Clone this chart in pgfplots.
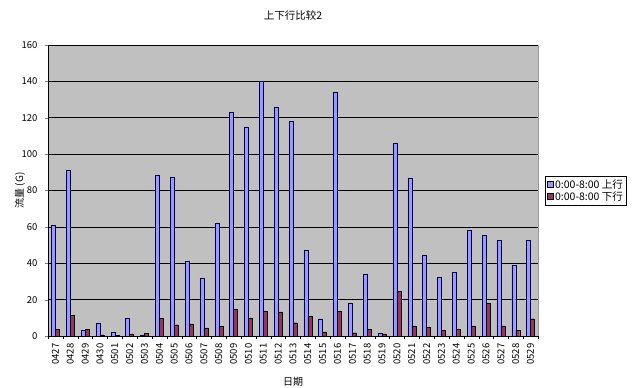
\documentclass[border=0pt]{standalone}
\usepackage{pgfplots}
\pgfplotsset{compat=1.18}
\usepackage{fontspec}
\setmainfont{Noto Sans CJK SC}
\definecolor{upc}{HTML}{9999FF}
\definecolor{dnc}{HTML}{993366}
\definecolor{plotbg}{HTML}{C0C0C0}
\begin{document}
\begin{tikzpicture}
\path[use as bounding box] (-48pt,-52pt) rectangle (592pt,336pt);
\begin{axis}[
  at={(0pt,0pt)}, anchor=south west,
  scale only axis, width=490pt, height=291pt,
  ybar=0pt, bar width=4pt,
  xmin=-0.5, xmax=32.5, ymin=0, ymax=160,
  ytick={0,20,...,160},
  xtick={0,...,32},
  xticklabels={0427,0428,0429,0430,0501,0502,0503,0504,0505,0506,0507,0508,0509,0510,0511,0512,0513,0514,0515,0516,0517,0518,0519,0520,0521,0522,0523,0524,0525,0526,0527,0528,0529},
  minor xtick={-0.5,0.5,...,32.5},
  major x tick style={draw=none},
  minor x tick style={black},
  minor tick length=3pt,
  major tick length=3pt,
  tick align=outside,
  axis x line*=bottom, axis y line*=left,
  axis line style={black, line width=0.6pt},
  axis background/.style={fill=plotbg, draw=gray!80},
  ymajorgrids, major grid style={black, line width=0.5pt},
  /pgf/number format/assume math mode=true,
  tick label style={font=\fontsize{9.5}{10}\selectfont},
  yticklabel style={xshift=-4pt},
  xticklabel style={rotate=90, anchor=east, xshift=-1pt},
  title={上下行比较2},
  title style={font=\fontsize{10.5}{12}\selectfont, at={(0.5,1)}, anchor=center, yshift=23pt},
  ylabel={流量 (G)},
  ylabel style={font=\fontsize{10}{12}\selectfont, at={(0,0.5)}, anchor=center, yshift=28pt},
  xlabel={日期},
  xlabel style={font=\fontsize{10}{12}\selectfont, at={(0.5,0)}, anchor=center, yshift=-46pt},
  legend style={at={(1,0.5)}, xshift=7pt, anchor=west, font=\fontsize{10.5}{12}\selectfont, draw=black, fill=white, inner sep=1.5pt, row sep=-2.5pt, legend cell align=left, nodes={inner xsep=2pt}},
  legend image code/.code={\draw[#1, draw=black, line width=0.4pt] (0pt,-3pt) rectangle (6pt,3pt);},
]
\addplot[fill=upc, draw=black!70!blue, line width=0.4pt] coordinates {
(0,61) (1,91) (2,3) (3,7) (4,2) (5,10) (6,0.5) (7,88.5) (8,87.5) (9,41) (10,32) (11,62) (12,123) (13,115) (14,140) (15,126) (16,118) (17,47) (18,9.5) (19,134) (20,18) (21,34) (22,1.5) (23,106) (24,87) (25,44.5) (26,32.5) (27,35) (28,58) (29,55.5) (30,52.5) (31,39) (32,52.5)};
\addplot[fill=dnc, draw=black, line width=0.4pt] coordinates {
(0,3.5) (1,11.5) (2,3.5) (3,0.7) (4,0.4) (5,1.1) (6,1.5) (7,9.7) (8,6.2) (9,6.6) (10,4.5) (11,5.2) (12,14.5) (13,9.8) (14,13.7) (15,13.3) (16,7.3) (17,10.8) (18,2.3) (19,13.5) (20,1.8) (21,3.8) (22,1.2) (23,24.7) (24,5.6) (25,4.9) (26,3) (27,3.6) (28,5.6) (29,17.9) (30,5.6) (31,3) (32,9.5)};
\legend{0:00-8:00 上行, 0:00-8:00 下行}
\end{axis}
\end{tikzpicture}
\end{document}
